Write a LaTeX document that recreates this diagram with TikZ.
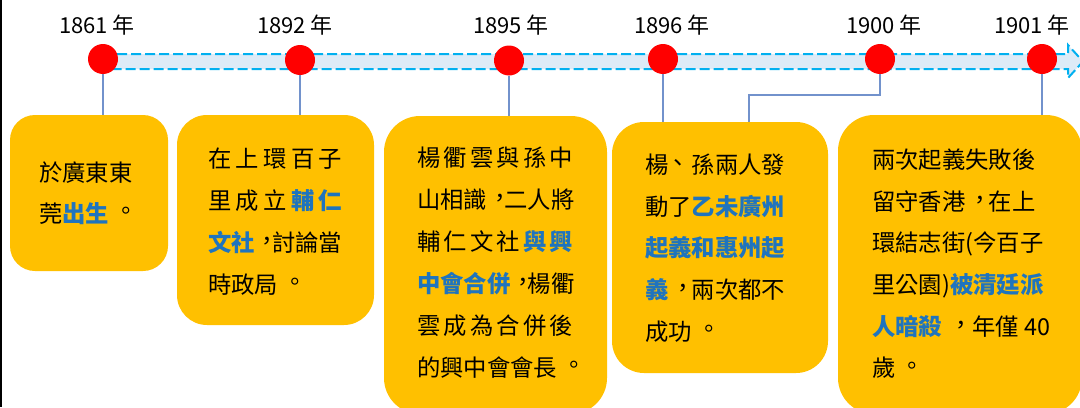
\documentclass[tikz,border=0pt]{standalone}
\usepackage{fontspec}
\setmainfont{Noto Sans CJK TC}
\definecolor{boxfill}{HTML}{FFC000}
\definecolor{tblue}{HTML}{1F74BE}
\definecolor{bandfill}{HTML}{DDEBF7}
\definecolor{banddash}{HTML}{00B0F0}
\definecolor{connc}{HTML}{7292CC}
\newdimen\px \px=0.75pt
\newcommand\hl[1]{\textcolor{tblue}{\bfseries #1}}
\newcommand\ncm{\makebox[0.74em][l]{\hspace{0.04em}\raisebox{0.07em}{，}}}
\newcommand\fcm{\makebox[1em][l]{\hspace{0.14em}\raisebox{0.07em}{，}}}
\newcommand\fst{\makebox[1em][l]{\hspace{0.22em}\raisebox{0.1em}{。}}}
\newcommand\dun{\makebox[1em][l]{\hspace{-0.1em}\raisebox{0.07em}{、}}}
\newcommand\jus[2]{\hbox to #1\px{#2}}
\tikzset{
  evbox/.style={fill=boxfill, draw=none, inner sep=0pt, outer sep=0pt},
  dot/.style={circle, fill=red, draw=none, minimum size=22.5pt, inner sep=0pt, outer sep=0pt},
  yearlbl/.style={anchor=base, inner sep=0pt, font=\fontsize{16.5}{20}\selectfont},
  txt/.style={anchor=base west, inner sep=0pt, font=\fontsize{17.5}{20}\selectfont},
  band/.style={fill=bandfill, draw=banddash, line width=1.5pt, dash pattern=on 7.5pt off 3pt},
  connl/.style={draw=connc, line width=0.8pt}
}
\begin{document}
\begin{tikzpicture}[x=0.75pt,y=-0.75pt]
\useasboundingbox (0,0) rectangle (1080,407);
\fill[white] (0,0) rectangle (1080,407);
\draw[line width=1.5pt] (1,0) -- (1,407);

% timeline band
\draw[band] (103,54) -- (1068,54) -- (1068,45) -- (1083,61.5) -- (1068,78) -- (1068,69) -- (103,69) -- cycle;

% boxes
\node[evbox, rounded corners=18.75pt, minimum width=118.5pt, minimum height=117pt] (b1) at (89,193) {};
\node[evbox, rounded corners=22.5pt, minimum width=147.75pt, minimum height=157.5pt] (b2) at (275.5,220) {};
\node[evbox, rounded corners=27pt, minimum width=167.25pt, minimum height=223.5pt] (b3) at (495.5,265) {};
\node[evbox, rounded corners=24pt, minimum width=162pt, minimum height=188.25pt] (b4) at (720,247.5) {};
\node[evbox, rounded corners=27pt, minimum width=183pt, minimum height=224.25pt] (b5) at (960,264.5) {};

% dots
\node[dot] (d1) at (103,59) {};
\node[dot] (d2) at (300,60) {};
\node[dot] (d3) at (509,60.5) {};
\node[dot] (d4) at (663,59) {};
\node[dot] (d5) at (880,59) {};
\node[dot] (d6) at (1042,59) {};

% year labels
\node[yearlbl] (y1) at (97,33) {1861 年};
\node[yearlbl] (y2) at (295,33) {1892 年};
\node[yearlbl] (y3) at (511,33) {1895 年};
\node[yearlbl] (y4) at (672,33) {1896 年};
\node[yearlbl] (y5) at (884,33) {1900 年};
\node[yearlbl] (y6) at (1032,33) {1901 年};

% connectors
\draw[connl] (d1.south) -- (d1.south |- b1.north);
\draw[connl] (d2.south) -- (d2.south |- b2.north);
\draw[connl] (d3.south) -- (d3.south |- b3.north);
\draw[connl] (d4.south) -- (d4.south |- b4.north);
\coordinate (k5) at (749,95);
\draw[connl] (d5.south) |- (k5) -- (k5 |- b4.north);
\draw[connl] (d6.south) -- (d6.south |- b5.north);

% box 1
\node[txt] (t11) at (39,181.5) {於廣東東};
\node[txt] (t12) at (39,222) {莞\hl{出生}\fst};

% box 2
\node[txt] (t21) at (208,167.5) {\jus{134}{在\hfill 上\hfill 環\hfill 百\hfill 子}};
\node[txt] (t22) at (208,209.5) {\jus{134}{里\hfill 成\hfill 立\hfill \hl{輔}\hfill \hl{仁}}};
\node[txt] (t23) at (208,251) {\hl{文社}\ncm 討論當};
\node[txt] (t24) at (208,293) {時政局\fst};

% box 3
\node[txt] (t31) at (417,166.5) {\jus{156}{楊\hfill 衢\hfill 雲\hfill 與\hfill 孫\hfill 中}};
\node[txt] (t32) at (417,208.5) {山相識\ncm 二人將};
\node[txt] (t33) at (417,250.5) {\jus{156}{輔\hfill 仁\hfill 文\hfill 社\hfill \hl{與}\hfill \hl{興}}};
\node[txt] (t34) at (417,292.5) {\hl{中會合併}\ncm 楊衢};
\node[txt] (t35) at (417,334.5) {\jus{156}{雲\hfill 成\hfill 為\hfill 合\hfill 併\hfill 後}};
\node[txt] (t36) at (417,376) {的興中會會長\fst};

% box 4
\node[txt] (t41) at (645,173.5) {楊\dun 孫兩人發};
\node[txt] (t42) at (645,215) {動了\hl{乙未廣州}};
\node[txt] (t43) at (645,256.5) {\hl{起義和惠州起}};
\node[txt] (t44) at (645,298.5) {\hl{義}\fcm 兩次都不};
\node[txt] (t45) at (645,340) {成功\fst};

% box 5
\node[txt] (t51) at (872,168.5) {兩次起義失敗後};
\node[txt] (t52) at (872,210) {留守香港\fcm 在上};
\node[txt] (t53) at (872,251.5) {環結志街(今百子};
\node[txt] (t54) at (872,293.5) {里公園)\hl{被清廷派}};
\node[txt] (t55) at (872,335) {\hl{人暗殺}\hspace{0.15em}\fcm\hspace{0.15em}年僅 40};
\node[txt] (t56) at (872,376.5) {歲\fst};
\end{tikzpicture}
\end{document}
